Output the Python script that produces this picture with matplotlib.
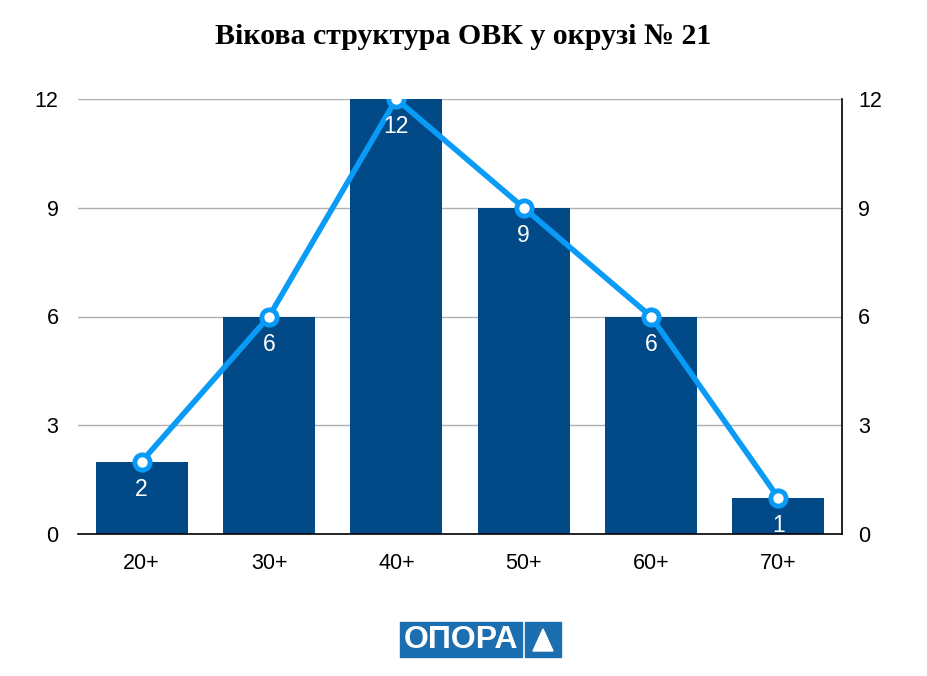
import matplotlib
matplotlib.use("Agg")
import matplotlib.pyplot as plt
from matplotlib.patches import Rectangle, Polygon

categories = ["20+", "30+", "40+", "50+", "60+", "70+"]
values = [2, 6, 12, 9, 6, 1]
yticks = [0, 3, 6, 9, 12]
title = "Вікова структура ОВК у окрузі № 21"

bar_color = "#024a87"
line_color = "#0a9bf7"

fig = plt.figure(figsize=(9.27, 6.76), dpi=100)
ax = fig.add_axes([78/927, 1-534/676, (842-78)/927, (534-99)/676])
x = list(range(len(categories)))
ax.bar(x, values, width=0.72, color=bar_color, zorder=2)
ax.plot(x, values, color=line_color, lw=4, zorder=3,
        marker="o", ms=11, mfc="white", mec=line_color, mew=3.5)
for xi, v in zip(x, values):
    ax.annotate(str(v), (xi, v), xytext=(0, -20), textcoords="offset points",
                ha="center", va="center", color="white", fontsize=16.5,
                family="Liberation Sans", zorder=4)
ax.set_xlim(-0.5, len(categories) - 0.5)
ax.set_ylim(0, 12)
ax.set_yticks(yticks)
ax.set_xticks(x)
ax.set_xticklabels(categories)
ax.grid(axis="y", color="#b0b0b0", lw=1, zorder=0)
ax.set_axisbelow(True)
for s in ["top", "left"]:
    ax.spines[s].set_visible(False)
ax.spines["bottom"].set_color("black")
ax.spines["right"].set_color("black")
ax.spines["bottom"].set_linewidth(1.2)
ax.spines["right"].set_linewidth(1.2)
ax.tick_params(axis="both", length=0, labelsize=15.5)
ax.tick_params(axis="y", pad=14)
ax.tick_params(axis="x", pad=13.5)
for lab in ax.get_xticklabels() + ax.get_yticklabels():
    lab.set_family("Liberation Sans")
ax2 = ax.twinx()
ax2.set_ylim(0, 12)
ax2.set_yticks(yticks)
for s in ["top", "left", "bottom", "right"]:
    ax2.spines[s].set_visible(False)
ax2.tick_params(axis="y", length=0, labelsize=15.5, pad=11.5)
for lab in ax2.get_yticklabels():
    lab.set_family("Liberation Sans")

fig.text(0.5, 1-36/676, title, ha="center", va="center", fontsize=21.5,
         fontweight="bold", family="Liberation Serif")

# logo
logo_color = "#1b6fb0"
fig.patches.append(Rectangle((400/927, 1-657/676), 122/927, 35/676,
                             transform=fig.transFigure, color=logo_color))
fig.patches.append(Rectangle((525/927, 1-657/676), 36/927, 35/676,
                             transform=fig.transFigure, color=logo_color))
fig.patches.append(Polygon([(533/927, 1-651/676), (553/927, 1-651/676),
                            (543/927, 1-629/676)], closed=True,
                           transform=fig.transFigure, color="white"))
fig.text(461/927, 1-640/676, "ОПОРА", ha="center", va="center", fontsize=23,
         fontweight="bold", color="white", family="Liberation Sans")

fig.savefig("out.png", dpi=100)
